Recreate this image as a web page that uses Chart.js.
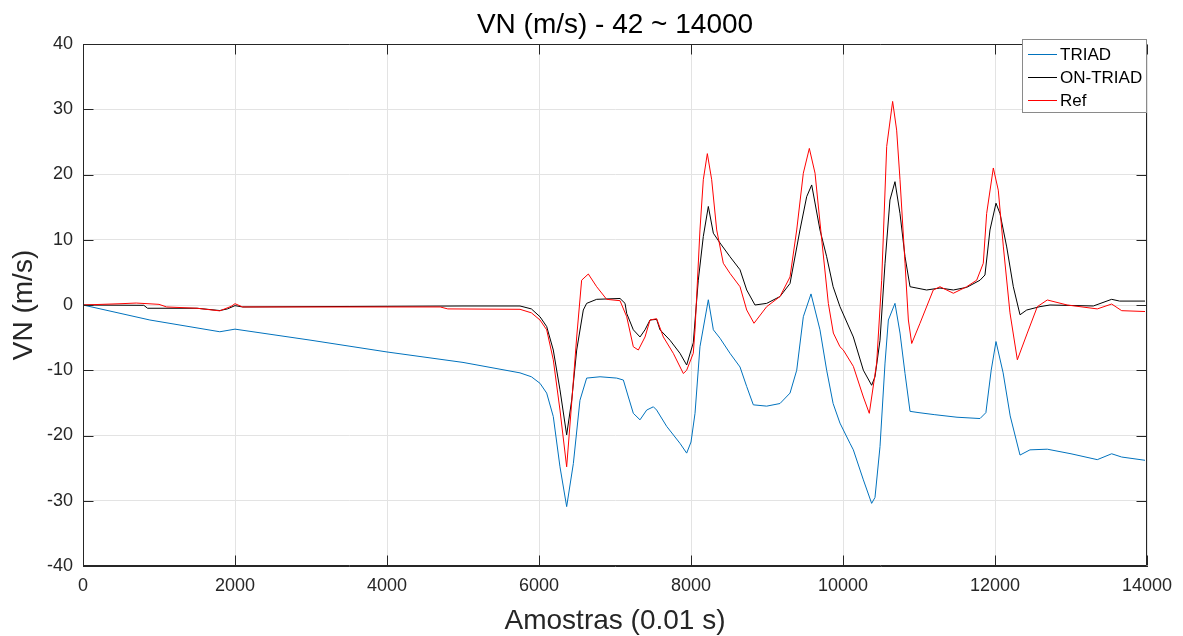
<!DOCTYPE html>
<html>
<head>
<meta charset="utf-8">
<script src="https://cdn.jsdelivr.net/npm/chart.js@4.4.1/dist/chart.umd.min.js"></script>
<style>
  html, body { margin: 0; padding: 0; background: #ffffff; }
  #c { display: block; }
</style>
</head>
<body>
<canvas id="c" width="1183" height="636"></canvas>
<script>
// ---- Data ----
const xTicks = [0, 2000, 4000, 6000, 8000, 10000, 12000, 14000];
const yTicks = [-40, -30, -20, -10, 0, 10, 20, 30, 40];
const seriesNames = ['TRIAD', 'ON-TRIAD', 'Ref'];

const triadX = [0, 880, 1800, 2000, 3000, 4000, 5000, 5750, 5900, 6013, 6101, 6188, 6276, 6364, 6452, 6539, 6627, 6803, 7022, 7110, 7176, 7241, 7329, 7417, 7505, 7548, 7680, 7855, 7943, 8000, 8053, 8118, 8228, 8294, 8382, 8513, 8645, 8733, 8820, 8996, 9171, 9303, 9391, 9478, 9579, 9697, 9785, 9870, 9960, 10092, 10136, 10268, 10377, 10421, 10487, 10553, 10597, 10684, 10750, 10816, 10882, 11000, 11200, 11500, 11803, 11880, 11950, 12013, 12107, 12200, 12329, 12460, 12688, 13000, 13346, 13535, 13667, 13974];
const triadY = [0, -2.3, -4.1, -3.7, -5.4, -7.2, -8.8, -10.4, -11.0, -12.0, -13.5, -17.1, -24.8, -30.9, -24.3, -14.6, -11.2, -11.0, -11.2, -11.5, -14.1, -16.6, -17.6, -16.1, -15.6, -16.1, -18.6, -21.2, -22.7, -21.0, -16.6, -6.4, 0.8, -3.8, -5.1, -7.4, -9.5, -12.5, -15.3, -15.5, -15.1, -13.5, -10.0, -1.8, 1.7, -3.8, -10.0, -15.1, -18.1, -21.2, -22.2, -26.8, -30.4, -29.5, -21.7, -8.9, -2.3, 0.25, -4.3, -10.5, -16.3, -16.5, -16.8, -17.2, -17.4, -16.5, -10.0, -5.6, -10.4, -17.0, -23.0, -22.2, -22.1, -22.8, -23.7, -22.8, -23.3, -23.8];

const onTriadX = [0, 800, 850, 1500, 1800, 1900, 2000, 2100, 3000, 4000, 5000, 5750, 5900, 6013, 6101, 6188, 6276, 6364, 6430, 6496, 6583, 6627, 6759, 7066, 7132, 7154, 7241, 7329, 7395, 7461, 7548, 7592, 7724, 7855, 7943, 8030, 8096, 8162, 8228, 8294, 8382, 8513, 8645, 8733, 8842, 8996, 9171, 9303, 9434, 9522, 9588, 9697, 9785, 9870, 9960, 10136, 10268, 10377, 10421, 10487, 10553, 10618, 10684, 10750, 10816, 10882, 11100, 11276, 11452, 11627, 11803, 11868, 11934, 12013, 12066, 12154, 12241, 12329, 12417, 12592, 12724, 13294, 13535, 13640, 13974];
const onTriadY = [0, -0.05, -0.5, -0.5, -0.85, -0.6, -0.1, -0.3, -0.25, -0.2, -0.15, -0.15, -0.6, -1.8, -3.3, -6.9, -13.0, -19.9, -14.6, -6.9, -0.77, 0.25, 0.87, 1.0, 0.25, -1.3, -3.8, -4.9, -3.8, -2.3, -2.2, -3.8, -5.4, -7.4, -9.2, -5.8, 3.8, 10.5, 15.1, 11.0, 9.5, 7.4, 5.4, 2.3, 0, 0.25, 1.3, 3.3, 11.5, 16.6, 18.4, 11.5, 7.4, 2.8, -0.25, -4.9, -10.0, -12.3, -11.0, -5.4, 6.4, 16.1, 18.9, 14.0, 7.4, 2.8, 2.3, 2.6, 2.3, 2.7, 3.8, 4.6, 11.5, 15.6, 14.0, 8.9, 2.8, -1.5, -0.77, -0.25, 0, -0.15, 0.87, 0.6, 0.6];

const refX = [0, 500, 700, 1000, 1100, 1500, 1800, 1950, 2000, 2100, 3000, 4000, 4700, 4800, 5750, 5900, 6013, 6101, 6188, 6276, 6364, 6430, 6496, 6561, 6649, 6759, 6890, 7066, 7154, 7241, 7307, 7395, 7461, 7548, 7636, 7767, 7899, 7943, 8030, 8053, 8118, 8162, 8215, 8272, 8338, 8425, 8513, 8645, 8733, 8829, 8996, 9171, 9303, 9391, 9478, 9557, 9632, 9720, 9807, 9873, 9960, 10004, 10136, 10268, 10346, 10443, 10509, 10575, 10653, 10706, 10750, 10816, 10860, 10904, 11013, 11188, 11276, 11452, 11627, 11759, 11846, 11890, 11978, 12043, 12110, 12197, 12294, 12425, 12557, 12688, 12950, 13346, 13535, 13667, 13974];
const refY = [0, 0.2, 0.3, 0.1, -0.3, -0.5, -0.9, -0.2, 0.2, -0.3, -0.3, -0.3, -0.3, -0.6, -0.66, -1.2, -2.3, -3.8, -8.4, -16.1, -24.8, -15.0, -4.9, 3.8, 4.75, 2.8, 0.87, 0.66, -1.8, -6.4, -6.9, -4.9, -2.3, -2.1, -4.9, -7.4, -10.5, -10.0, -7.4, -3.8, 11.5, 19.2, 23.2, 19.2, 11.5, 6.4, 4.85, 2.8, -0.77, -2.8, -0.25, 1.3, 4.3, 11.5, 20.2, 24.0, 20.2, 10.0, 0.25, -4.3, -6.4, -6.9, -9.4, -14.1, -16.6, -8.9, 3.8, 24.3, 31.2, 26.8, 19.2, 6.4, -2.3, -5.9, -2.8, 2.3, 2.8, 1.8, 2.8, 3.8, 6.4, 14.0, 21.0, 17.6, 8.9, -1.2, -8.4, -4.3, -0.25, 0.77, 0, -0.6, 0.15, -0.87, -1.0];

// ---- Build chart ----
const FONT = "'Liberation Sans', Arial, Helvetica, sans-serif";
const AX = '#262626';
const colors = ['#0072BD', '#000000', '#FF0000'];

function pts(xs, ys) { return xs.map((x, i) => ({ x: x, y: ys[i] })); }

const frame = {
  id: 'frame',
  afterDatasetsDraw(chart) {
    const { ctx, chartArea: a, scales } = chart;
    ctx.save();
    ctx.strokeStyle = AX;
    ctx.lineWidth = 1;
    const L = Math.round(a.left) + 0.5, R = Math.round(a.right) - 0.5;
    const T = Math.round(a.top) + 0.5, B = Math.round(a.bottom) - 0.5;
    ctx.beginPath();
    ctx.moveTo(L, T); ctx.lineTo(R, T); ctx.lineTo(R, B); ctx.lineTo(L, B); ctx.closePath();
    ctx.stroke();
    const tl = 10;
    ctx.beginPath();
    xTicks.forEach(v => {
      const px = Math.round(scales.x.getPixelForValue(v)) + 0.5;
      ctx.moveTo(px, B); ctx.lineTo(px, B - tl);
      ctx.moveTo(px, T); ctx.lineTo(px, T + tl);
    });
    yTicks.forEach(v => {
      const py = Math.round(scales.y.getPixelForValue(v)) + 0.5;
      ctx.moveTo(L, py); ctx.lineTo(L + tl, py);
      ctx.moveTo(R, py); ctx.lineTo(R - tl, py);
    });
    ctx.stroke();
    ctx.restore();
  },
  afterDraw(chart) {
    const { ctx, chartArea: a } = chart;
    ctx.save();
    // Title
    ctx.fillStyle = '#000000';
    ctx.font = '28px ' + FONT;
    ctx.textAlign = 'center';
    ctx.textBaseline = 'alphabetic';
    ctx.fillText('VN (m/s) - 42 ~ 14000', (a.left + a.right) / 2, 33);
    // Legend box
    const bx = 1022.5, by = 39.5, bw = 124, bh = 73;
    ctx.fillStyle = '#ffffff';
    ctx.fillRect(bx, by, bw, bh);
    ctx.strokeStyle = '#8a8a8a';
    ctx.lineWidth = 1;
    ctx.strokeRect(bx, by, bw, bh);
    ctx.font = '17px ' + FONT;
    ctx.textAlign = 'left';
    ctx.textBaseline = 'middle';
    const rows = [54, 77, 100];
    seriesNames.forEach((n, i) => {
      ctx.strokeStyle = colors[i];
      ctx.beginPath();
      ctx.moveTo(1028, rows[i] + 0.5); ctx.lineTo(1057, rows[i] + 0.5);
      ctx.stroke();
      ctx.fillStyle = '#000000';
      ctx.fillText(n, 1060, rows[i] + 1);
    });
    ctx.restore();
  }
};

new Chart(document.getElementById('c'), {
  type: 'line',
  data: {
    datasets: [
      { label: seriesNames[0], data: pts(triadX, triadY), borderColor: colors[0], order: 3 },
      { label: seriesNames[1], data: pts(onTriadX, onTriadY), borderColor: colors[1], order: 2 },
      { label: seriesNames[2], data: pts(refX, refY), borderColor: colors[2], order: 1 }
    ]
  },
  options: {
    responsive: false,
    animation: false,
    parsing: false,
    elements: {
      line: { borderWidth: 1, tension: 0, fill: false },
      point: { radius: 0 }
    },
    layout: { padding: { top: 44, right: 36, left: 0, bottom: 0 } },
    plugins: { legend: { display: false }, tooltip: { enabled: false }, title: { display: false } },
    scales: {
      x: {
        type: 'linear', min: 0, max: 14000,
        afterBuildTicks: s => { s.ticks = xTicks.map(v => ({ value: v })); },
        ticks: { color: AX, font: { family: FONT, size: 18 }, padding: 9, maxRotation: 0, callback: v => String(v) },
        grid: { color: '#e3e3e3', drawTicks: false },
        border: { color: AX },
        title: { display: true, text: 'Amostras (0.01 s)', color: AX, font: { family: FONT, size: 28, lineHeight: 1 }, padding: { top: 0, bottom: 1 } },
        afterFit: s => { s.height = 70; }
      },
      y: {
        type: 'linear', min: -40, max: 40,
        afterBuildTicks: s => { s.ticks = yTicks.map(v => ({ value: v })); },
        ticks: { color: AX, font: { family: FONT, size: 18 }, padding: 10, callback: v => String(v) },
        grid: { color: '#e3e3e3', drawTicks: false },
        border: { color: AX },
        title: { display: true, text: 'VN (m/s)', color: AX, font: { family: FONT, size: 28, lineHeight: 1 }, padding: { top: 10, bottom: 0 } },
        afterFit: s => { s.width = 83; }
      }
    }
  },
  plugins: [frame]
});
</script>
</body>
</html>
